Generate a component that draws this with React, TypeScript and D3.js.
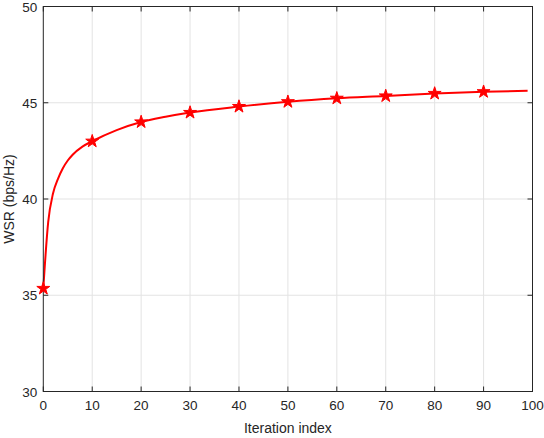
import React, { useEffect, useRef } from "react";
import * as d3 from "d3";

// values
const iterations = [0, 1, 2, 3, 4, 5, 6, 8, 10, 15, 20, 25, 30, 40, 50, 60, 70, 80, 90, 99];
const wsr = [35.35, 38.8, 40.3, 41.05, 41.6, 42.0, 42.3, 42.72, 43.0, 43.58, 44.0, 44.27, 44.49, 44.8, 45.05, 45.23, 45.35, 45.48, 45.57, 45.62];
const markerIters = [0, 10, 20, 30, 40, 50, 60, 70, 80, 90];
const xTicks = [0, 10, 20, 30, 40, 50, 60, 70, 80, 90, 100];
const yTicks = [30, 35, 40, 45, 50];

const W = 544;
const H = 438;
const margin = { left: 43.3, right: 11.5, top: 6.5, bottom: 46.5 };
const axisColor = "#262626";
const font = "'Liberation Sans', Arial, sans-serif";

export default function App() {
  const ref = useRef<SVGSVGElement | null>(null);

  useEffect(() => {
    const svg = d3.select(ref.current);
    svg.selectAll("*").remove();

    const x = d3.scaleLinear().domain([0, 100]).range([margin.left, W - margin.right]);
    const y = d3.scaleLinear().domain([30, 50]).range([H - margin.bottom, margin.top]);

    svg.append("rect").attr("width", W).attr("height", H).attr("fill", "#fff");

    // grid
    const grid = svg.append("g").attr("stroke", "#e3e3e3").attr("stroke-width", 1);
    xTicks.slice(1, -1).forEach(t => {
      grid.append("line").attr("x1", x(t)).attr("x2", x(t)).attr("y1", y(30)).attr("y2", y(50));
    });
    yTicks.slice(1, -1).forEach(t => {
      grid.append("line").attr("x1", x(0)).attr("x2", x(100)).attr("y1", y(t)).attr("y2", y(t));
    });

    // data line
    const pts: [number, number][] = iterations.map((d, i) => [d, wsr[i]]);
    const line = d3.line<[number, number]>()
      .x(d => x(d[0]))
      .y(d => y(d[1]))
      .curve(d3.curveMonotoneX);
    svg.append("path")
      .attr("d", line(pts))
      .attr("fill", "none")
      .attr("stroke", "#ff0000")
      .attr("stroke-width", 2);

    // box and ticks
    const box = svg.append("g").attr("stroke", axisColor).attr("stroke-width", 1).attr("fill", "none");
    box.append("rect")
      .attr("x", x(0)).attr("y", y(50))
      .attr("width", x(100) - x(0)).attr("height", y(30) - y(50));
    const tl = 5;
    xTicks.forEach(t => {
      box.append("line").attr("x1", x(t)).attr("x2", x(t)).attr("y1", y(30)).attr("y2", y(30) - tl);
      box.append("line").attr("x1", x(t)).attr("x2", x(t)).attr("y1", y(50)).attr("y2", y(50) + tl);
    });
    yTicks.forEach(t => {
      box.append("line").attr("x1", x(0)).attr("x2", x(0) + tl).attr("y1", y(t)).attr("y2", y(t));
      box.append("line").attr("x1", x(100)).attr("x2", x(100) - tl).attr("y1", y(t)).attr("y2", y(t));
    });

    // markers
    const star = d3.symbol().type(d3.symbolStar).size(52);
    markerIters.forEach(it => {
      const v = wsr[iterations.indexOf(it)];
      svg.append("path")
        .attr("d", star())
        .attr("transform", `translate(${x(it)},${y(v)})`)
        .attr("fill", "#ff0000")
        .attr("stroke", "#ff0000")
        .attr("stroke-width", 1);
    });

    // tick labels
    const labels = svg.append("g").attr("font-family", font).attr("font-size", 13.5).attr("fill", axisColor);
    xTicks.forEach(t => {
      labels.append("text").attr("x", x(t)).attr("y", y(30) + 18).attr("text-anchor", "middle").text(t);
    });
    yTicks.forEach(t => {
      labels.append("text").attr("x", x(0) - 6).attr("y", y(t) + 5).attr("text-anchor", "end").text(t);
    });

    svg.append("text")
      .attr("x", (x(0) + x(100)) / 2).attr("y", H - 5)
      .attr("text-anchor", "middle")
      .attr("font-family", font).attr("font-size", 14).attr("fill", axisColor)
      .text("Iteration index");

    svg.append("text")
      .attr("transform", `translate(14,${(y(30) + y(50)) / 2}) rotate(-90)`)
      .attr("text-anchor", "middle")
      .attr("font-family", font).attr("font-size", 14).attr("fill", axisColor)
      .text("WSR (bps/Hz)");
  }, []);

  return (
    <svg
      ref={ref}
      width={W}
      height={H}
      style={{ position: "absolute", left: 0, top: 0, display: "block" }}
    />
  );
}
